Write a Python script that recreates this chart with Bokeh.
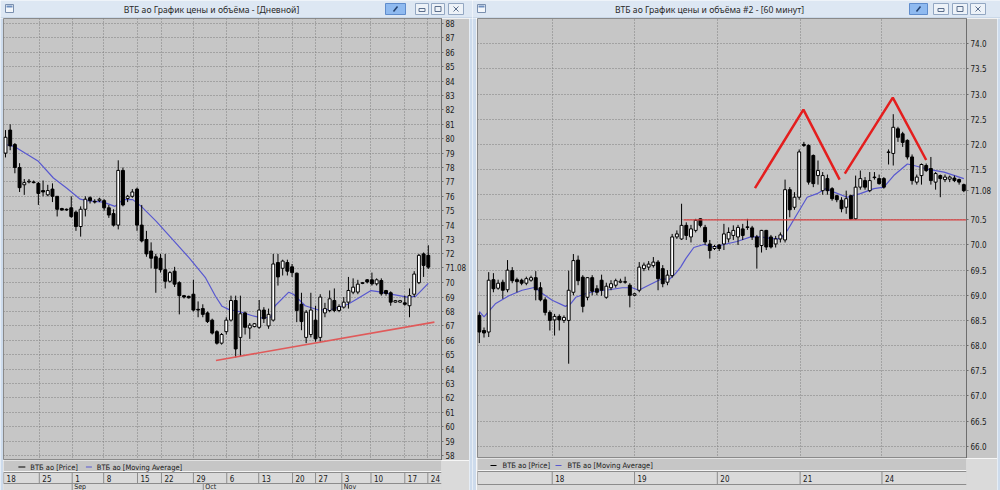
from bokeh.plotting import figure
from bokeh.models import (Range1d, FixedTicker, Label, PrintfTickFormatter, ColumnDataSource,
                          CustomJSTickFormatter)
from bokeh.layouts import row, column
from bokeh.embed import file_html
from bokeh.resources import INLINE
from bokeh.core.properties import value

# ================= DATA: daily chart (left window) =================
d_open = [79.0, 80.6, 79.6, 78.0, 76.8, 77.0, 77.0, 76.9, 76.4, 76.1,
          76.5, 76.0, 75.15, 75.1, 75.2, 74.9, 73.9, 75.1, 75.9, 75.65,
          75.7, 75.7, 75.2, 74.8, 74.0, 77.8, 75.85, 76.0, 76.5, 74.0,
          73.0, 72.2, 71.8, 71.7, 70.9, 70.1, 70.8, 70.0, 69.1, 69.05,
          69.2, 68.15, 68.2, 67.9, 67.4, 66.6, 65.8, 66.6, 67.4, 68.76,
          66.2, 67.9, 66.85, 66.95, 66.9, 68.1, 67.0, 67.4, 71.4, 71.0,
          71.4, 71.1, 70.66, 68.5, 66.2, 66.4, 67.4, 66.2, 67.9, 68.07,
          68.76, 68.07, 68.3, 68.65, 69.34, 69.35, 69.95, 70.2, 70.2, 69.92,
          70.15, 69.45, 69.3, 68.65, 68.65, 68.6, 68.4, 69.2, 70.0, 72.0,
          71.9]
d_high = [80.6, 81.0, 79.7, 78.3, 77.2, 77.2, 77.1, 77.0, 77.1, 76.8,
          76.9, 76.0, 75.2, 75.15, 76.0, 75.0, 75.3, 76.0, 76.0, 75.8,
          75.9, 75.8, 75.4, 75.1, 78.5, 78.0, 76.1, 76.5, 76.6, 75.4,
          73.6, 72.8, 72.0, 72.0, 72.0, 70.8, 71.1, 70.1, 69.15, 69.1,
          70.2, 68.7, 68.5, 68.0, 67.5, 66.7, 66.5, 67.6, 69.1, 69.1,
          69.1, 68.0, 67.2, 67.2, 68.8, 68.3, 68.2, 72.0, 72.0, 71.6,
          71.6, 71.3, 70.7, 69.3, 68.1, 69.3, 68.4, 69.2, 68.6, 69.46,
          69.6, 68.5, 69.0, 70.4, 70.3, 70.2, 70.05, 70.25, 70.7, 70.3,
          70.3, 69.5, 69.4, 68.8, 68.8, 69.1, 69.6, 70.8, 72.0, 72.1,
          72.6]
d_low = [78.7, 79.2, 77.6, 76.3, 76.1, 76.9, 76.9, 75.4, 76.0, 76.0,
         75.6, 74.6, 75.0, 75.0, 74.5, 73.6, 73.2, 74.6, 75.5, 75.5,
         75.6, 75.0, 74.5, 73.9, 73.7, 75.3, 75.6, 75.9, 73.6, 72.8,
         71.8, 71.0, 69.3, 70.7, 69.6, 70.0, 69.7, 67.8, 68.9, 68.9,
         68.0, 67.6, 67.6, 67.2, 66.4, 65.7, 65.7, 66.4, 67.3, 64.8,
         64.9, 66.4, 66.1, 66.9, 66.8, 67.2, 66.8, 67.3, 69.8, 70.5,
         70.5, 70.4, 67.26, 66.7, 65.8, 66.2, 65.9, 65.9, 67.6, 67.95,
         67.95, 67.95, 68.2, 68.2, 69.2, 69.2, 69.9, 69.95, 69.8, 69.8,
         69.1, 69.1, 68.4, 68.6, 68.6, 68.4, 67.6, 69.0, 69.9, 70.4,
         70.95]
d_close = [80.1, 79.5, 78.0, 76.6, 76.95, 77.05, 76.95, 76.2, 76.3, 76.4,
           76.0, 75.1, 75.05, 75.05, 74.6, 73.9, 75.1, 75.8, 75.7, 75.6,
           75.8, 75.2, 74.7, 74.0, 77.8, 75.4, 76.0, 76.3, 74.0, 72.9,
           72.0, 71.7, 71.0, 70.9, 70.1, 70.7, 69.9, 69.1, 69.0, 68.95,
           68.1, 68.1, 67.8, 67.3, 66.5, 65.8, 66.4, 67.4, 68.76, 65.4,
           67.84, 66.9, 67.05, 67.15, 68.1, 67.5, 67.8, 71.3, 70.4, 71.5,
           70.8, 70.7, 68.07, 67.3, 67.95, 68.1, 66.1, 69.0, 68.2, 68.88,
           68.07, 68.35, 68.65, 69.46, 69.69, 69.9, 70.0, 70.05, 69.92, 70.2,
           69.23, 69.25, 68.65, 68.75, 68.75, 68.5, 69.1, 70.6, 71.9, 71.2,
           71.08]
# moving average (bar number, value)
d_ma_x = [1, 2.8, 8.0, 11.2, 14.0, 16.9, 18.3, 21.8, 24.3, 26.0, 28.1, 29.9, 33.1,
          36.6, 40.1, 43.6, 45.7, 47.1, 48.6, 50.7, 53.4, 55.5, 57.5, 58.4, 61.3,
          62.3, 64.8, 67.6, 70.4, 73.9, 76.0, 78.8, 81.0, 83.0, 86.6, 88.3, 91.0]
d_ma_y = [79.6, 79.47, 78.43, 77.27, 76.58, 75.8, 75.7, 75.6, 75.3, 75.77, 75.77, 75.3, 74.26,
          72.99, 71.72, 70.33, 69.06, 68.36, 68.13, 68.0, 67.72, 67.56, 67.6, 68.4, 69.34,
          69.2, 68.4, 68.1, 68.15, 68.5, 68.9, 69.45, 69.35, 69.2, 69.0, 69.05, 69.95]
d_trend_x = [45.8, 92.3]
d_trend_y = [64.6, 67.26]
d_yticks = [58, 59, 60, 61, 62, 63, 64, 65, 66, 67, 68, 69, 70, 71, 72, 73,
            74, 75, 76, 77, 78, 79, 80, 81, 82, 83, 84, 85, 86, 87, 88]
d_week_pos = [0.6, 8.2, 15.2, 21.9, 29.1, 34.2, 41.0, 48.1, 54.9, 62.1, 67.0, 72.6, 78.8, 86.0, 90.9]
d_week_lab = ["18", "25", "1", "8", "15", "22", "29", "6", "13", "20", "27", "3", "10", "17", "24"]
d_month_pos = [15.2, 43.1, 72.6]
d_month_lab = ["Sep", "Oct", "Nov"]
d_last = 71.08

# ================= DATA: hourly chart (right window) =================
h_open = [68.6, 68.3, 68.27, 69.31, 69.14, 69.26, 69.11, 69.49, 69.31, 69.3,
          69.24, 69.3, 69.35, 69.15, 68.91, 68.66, 68.51, 68.58, 68.5, 68.5,
          69.06, 69.7, 69.36, 68.96, 69.35, 69.13, 69.3, 68.96, 69.15, 69.2,
          69.26, 69.27, 69.2, 69.0, 69.1, 69.53, 69.56, 69.59, 69.66, 69.53,
          69.26, 69.39, 70.16, 70.12, 70.39, 70.16, 70.29, 70.52, 70.35, 70.02,
          69.93, 70.0, 70.02, 70.12, 70.19, 70.16, 70.32, 70.36, 70.34, 70.16,
          69.99, 70.29, 70.16, 70.02, 70.12, 70.1, 71.1, 70.75, 70.95, 72.0,
          71.98, 71.78, 71.38, 71.08, 71.32, 71.12, 70.98, 70.89, 70.75, 70.98,
          70.52, 71.15, 71.28, 71.08, 71.35, 71.32, 71.32, 71.84, 71.82, 72.31,
          72.21, 72.08, 71.75, 71.25, 71.38, 71.58, 71.52, 71.25, 71.38, 71.3,
          71.31, 71.33, 71.3, 71.2]
h_high = [68.66, 68.36, 69.46, 69.44, 69.31, 69.31, 69.7, 69.56, 69.35, 69.33,
          69.37, 69.39, 69.48, 69.26, 68.96, 68.7, 68.63, 68.62, 68.6, 69.49,
          69.82, 69.79, 69.4, 69.36, 69.4, 69.2, 69.41, 69.25, 69.3, 69.33,
          69.33, 69.37, 69.24, 69.05, 69.66, 69.65, 69.68, 69.76, 69.7, 69.6,
          69.5, 70.22, 70.29, 70.82, 70.45, 70.4, 70.52, 70.53, 70.4, 70.1,
          70.0, 70.02, 70.42, 70.35, 70.39, 70.4, 70.42, 70.52, 70.38, 70.2,
          70.3, 70.3, 70.2, 70.18, 70.25, 71.3, 71.15, 71.05, 71.9, 72.05,
          72.0, 71.8, 71.68, 71.45, 71.4, 71.15, 71.0, 70.95, 71.08, 71.0,
          71.38, 71.48, 71.35, 71.45, 71.45, 71.4, 71.35, 71.9, 72.6, 72.35,
          72.25, 72.1, 71.8, 71.4, 71.62, 71.62, 71.75, 71.45, 71.4, 71.4,
          71.38, 71.38, 71.32, 71.22]
h_low = [68.05, 68.16, 68.17, 69.06, 69.11, 68.93, 69.06, 69.24, 69.06, 69.2,
         69.2, 69.27, 68.9, 68.88, 68.6, 68.3, 68.2, 68.3, 68.45, 67.64,
         69.0, 69.2, 68.66, 68.9, 69.0, 69.0, 68.99, 68.93, 69.1, 69.15,
         69.24, 69.23, 68.76, 68.98, 69.06, 69.48, 69.5, 69.55, 69.1, 69.16,
         69.2, 69.35, 70.12, 70.1, 70.1, 70.05, 70.25, 70.35, 70.0, 69.73,
         69.9, 69.88, 69.9, 70.05, 70.1, 70.0, 70.1, 70.3, 70.1, 69.53,
         69.85, 69.9, 69.93, 69.95, 70.05, 70.05, 70.55, 70.7, 70.9, 71.95,
         71.2, 71.15, 71.2, 71.0, 71.0, 70.88, 70.85, 70.65, 70.62, 70.5,
         70.5, 71.1, 71.1, 71.05, 71.3, 71.2, 71.12, 71.6, 71.58, 72.05,
         71.95, 71.7, 71.2, 71.2, 71.2, 71.45, 71.2, 71.1, 70.95, 71.25,
         71.25, 71.25, 71.2, 71.05]
h_close = [68.27, 68.25, 69.3, 69.13, 69.24, 69.1, 69.5, 69.29, 69.27, 69.24,
           69.33, 69.35, 69.11, 68.91, 68.66, 68.5, 68.58, 68.51, 68.56, 69.1,
           69.69, 69.29, 68.78, 69.35, 69.08, 69.06, 69.1, 69.18, 69.23, 69.29,
           69.28, 69.26, 69.0, 69.03, 69.56, 69.6, 69.62, 69.66, 69.33, 69.23,
           69.4, 70.16, 70.22, 70.39, 70.19, 70.32, 70.49, 70.39, 70.06, 69.89,
           69.97, 69.93, 70.22, 70.25, 70.29, 70.35, 70.19, 70.35, 70.16, 69.96,
           70.29, 69.96, 69.96, 70.12, 70.2, 71.1, 70.7, 70.95, 71.85, 71.98,
           71.25, 71.22, 71.48, 71.38, 71.08, 70.92, 70.9, 70.72, 70.92, 70.52,
           71.15, 71.32, 71.15, 71.28, 71.34, 71.22, 71.15, 71.85, 72.34, 72.14,
           72.04, 71.75, 71.28, 71.35, 71.6, 71.48, 71.28, 71.42, 71.32, 71.35,
           71.35, 71.28, 71.25, 71.08]
h_ma_x = [1.0, 2.0, 4.4, 7.3, 10.1, 12.9, 14.0, 16.5, 19.3, 20.4, 21.5, 23.6, 25.7,
          28.6, 31.4, 33.5, 34.9, 37.0, 39.8, 41.3, 42.7, 43.8, 44.9, 46.6, 48.7,
          50.9, 53.0, 55.8, 58.7, 60.8, 62.9, 65.0, 66.5, 68.6, 70.7, 72.8, 74.6,
          76.4, 79.2, 82.0, 84.9, 87.0, 89.1, 92.0, 93.4, 96.2, 99.8, 104.0]
h_ma_y = [68.68, 68.57, 68.83, 68.99, 69.1, 69.16, 69.06, 68.9, 68.78, 68.83, 68.96, 69.03, 69.08,
          69.11, 69.15, 69.15, 69.1, 69.2, 69.33, 69.31, 69.43, 69.56, 69.73, 69.95, 70.01,
          69.96, 70.01, 70.07, 70.16, 70.16, 70.13, 70.12, 70.29, 70.62, 70.95, 71.02, 71.12,
          71.05, 70.95, 71.02, 71.12, 71.15, 71.38, 71.61, 71.58, 71.51, 71.45, 71.32]
h_level = 70.5
h_level_from = 44.4
h_top1_x = [59.6, 69.9, 77.6]
h_top1_y = [71.13, 72.69, 71.30]
h_top2_x = [78.7, 88.9, 96.0]
h_top2_y = [71.42, 72.93, 71.69]
h_yticks = [66.0, 66.5, 67.0, 67.5, 68.0, 68.5, 69.0, 69.5, 70.0,
            70.5, 71.0, 71.5, 72.0, 72.5, 73.0, 73.5, 74.0]
h_day_pos = [0.62, 16.5, 34.0, 51.6, 69.2, 86.6]
h_day_lab = ["", "18", "19", "20", "21", "24"]
h_last = 71.08

# ================= STYLE =================
PLOT_BG = "#c6c6c6"
OUTLINE = "#8a8a8a"
GRID = "#7e7e7e"
WIN_EDGE = "#cddbec"
TITLE_BG = "#dde7f3"
STRIP_BG = "#dadada"
MA_COLOR = "#5858d0"
NARROW = "Liberation Sans Narrow, DejaVu Sans Condensed, sans-serif"
UI_FONT = "Noto Sans"


def blank(w, h, color, xr=None, yr=None):
    p = figure(width=w, height=h, output_backend="svg", toolbar_location=None,
               min_border=0, x_axis_location=None, y_axis_location=None,
               x_range=xr if xr is not None else Range1d(0, 1),
               y_range=yr if yr is not None else Range1d(0, 1),
               background_fill_color=color, border_fill_color=color,
               outline_line_color=None)
    p.grid.visible = False
    return p


def price_chart(o, h, l, c, xr, yr, w, hgt, mbl, mbr, yticks, decimals, vlines, ma_x, ma_y,
                last, replaced):
    xs = list(range(1, len(o) + 1))
    src = ColumnDataSource(dict(
        x=xs, h=h, l=l,
        top=[max(a, b) for a, b in zip(o, c)],
        bot=[min(a, b) for a, b in zip(o, c)],
        fill=["#ffffff" if b >= a else "#000000" for a, b in zip(o, c)]))
    p = figure(width=w, height=hgt, x_range=xr, y_range=yr, output_backend="svg",
               toolbar_location=None, x_axis_location=None, y_axis_location="right",
               min_border_left=mbl, min_border_right=mbr, min_border_top=0, min_border_bottom=0,
               background_fill_color=PLOT_BG, border_fill_color=PLOT_BG,
               outline_line_color=OUTLINE, outline_line_width=1)
    p.xgrid.ticker = FixedTicker(ticks=vlines)
    p.ygrid.ticker = FixedTicker(ticks=yticks)
    for g in (p.xgrid, p.ygrid):
        g.grid_line_color = GRID
        g.grid_line_dash = "1 2"
        g.grid_line_width = 1
    ax = p.yaxis[0]
    # the last-price tag replaces the tick label that it covers
    ax.ticker = FixedTicker(ticks=[t for t in yticks if t != replaced] + [last])
    ax.formatter = CustomJSTickFormatter(
        args=dict(last=last, dec=decimals),
        code="return Math.abs(tick - last) < 1e-6 ? tick.toFixed(2) : tick.toFixed(dec);")
    ax.major_label_text_font = NARROW
    ax.major_label_text_font_size = "8px"
    ax.major_label_text_color = "#1a1a1a"
    ax.major_tick_out = 2
    ax.major_tick_in = 0
    ax.minor_tick_out = 0
    ax.minor_tick_in = 0
    ax.major_label_standoff = 2
    ax.axis_line_color = "#6e6e6e"
    ax.major_tick_line_color = "#6e6e6e"

    p.line(ma_x, ma_y, line_color=MA_COLOR, line_width=1.2)
    p.segment(x0="x", y0="l", x1="x", y1="h", source=src, line_color="#000000", line_width=1)
    p.vbar(x="x", width=0.62, top="top", bottom="bot", source=src,
           fill_color="fill", line_color="#000000", line_width=1)
    return p


def date_strip(xr, w, hgt, mbl, mbr, frame_w, sep_pos, sep_lab, month_pos, month_lab,
               rows, leg):
    p = figure(width=w, height=hgt, x_range=xr, y_range=Range1d(hgt, 0), output_backend="svg",
               toolbar_location=None, x_axis_location=None, y_axis_location=None,
               min_border_left=mbl, min_border_right=mbr, min_border_top=0, min_border_bottom=0,
               background_fill_color=PLOT_BG, border_fill_color=STRIP_BG, outline_line_color=None)
    p.grid.visible = False
    p.extra_x_ranges = {"px": Range1d(0, frame_w)}
    legend_y, day_top, day_bot, month_bot = rows
    p.quad(left=[0], right=[frame_w], top=[day_top], bottom=[month_bot], x_range_name="px",
           fill_color=STRIP_BG, line_color=None)
    p.segment(x0=[0], x1=[frame_w], y0=[day_top - 1], y1=[day_top - 1], x_range_name="px",
              line_color="#f4f4f4", line_width=1)
    p.segment(x0=[0, 0], x1=[frame_w, frame_w], y0=[day_top, day_bot], y1=[day_top, day_bot],
              x_range_name="px", line_color="#8c8c8c", line_width=1)
    p.segment(x0=sep_pos, x1=sep_pos, y0=[day_top] * len(sep_pos), y1=[day_bot] * len(sep_pos),
              line_color="#8c8c8c", line_width=1)
    p.text(x=sep_pos, y=[(day_top + day_bot) / 2] * len(sep_pos), text=sep_lab, x_offset=3,
           text_font=value(NARROW), text_font_size="8px", text_baseline="middle",
           text_align="left", text_color="#1a1a1a")
    if month_pos:
        p.segment(x0=month_pos, x1=month_pos, y0=[day_bot] * len(month_pos),
                  y1=[month_bot] * len(month_pos), line_color="#8c8c8c", line_width=1)
        p.text(x=month_pos, y=[day_bot + 3] * len(month_pos), text=month_lab, x_offset=2,
               text_font=value(NARROW), text_font_size="7px", text_baseline="middle",
               text_align="left", text_color="#1a1a1a")
    (bx0, bx1, btx), (mx0, mx1, mtx) = leg
    p.segment(x0=[bx0], x1=[bx1], y0=[legend_y], y1=[legend_y], x_range_name="px",
              line_color="#000000", line_width=1)
    p.segment(x0=[mx0], x1=[mx1], y0=[legend_y], y1=[legend_y], x_range_name="px",
              line_color=MA_COLOR, line_width=1)
    p.text(x=[btx, mtx], y=[legend_y, legend_y],
           text=["ВТБ ао [Price]", "ВТБ ао [Moving Average]"], x_range_name="px",
           text_font=value(NARROW), text_font_size="7.5px", text_baseline="middle",
           text_align="left", text_color="#1a1a1a")
    return p


def title_bar(w, title, tx, blue_btn, btns):
    p = blank(w, 18, TITLE_BG, Range1d(0, w), Range1d(18, 0))
    p.segment(x0=[0], x1=[w], y0=[17.5], y1=[17.5], line_color="#b7c8dc")
    p.quad(left=[5], right=[13], top=[4], bottom=[12], fill_color="#f3f6fa", line_color="#7a8fae")
    p.quad(left=[6], right=[12], top=[5], bottom=[7], fill_color="#6f8fc0", line_color=None)
    p.text(x=[tx], y=[9.5], text=[title], text_align="center", text_baseline="middle",
           text_font=value(UI_FONT), text_font_size="8.6px", text_color="#2a2a2a")
    p.quad(left=[blue_btn[0]], right=[blue_btn[1]], top=[3], bottom=[14],
           fill_color="#8fbaf0", line_color="#5f8ccc")
    cx = (blue_btn[0] + blue_btn[1]) / 2
    p.segment(x0=[cx - 2], x1=[cx + 2], y0=[11], y1=[6], line_color="#23406e", line_width=1.5)
    p.quad(left=[b[0] for b in btns], right=[b[1] for b in btns], top=[3] * 3, bottom=[14] * 3,
           fill_color="#edf2f8", line_color="#93a7c2")
    c = [(b[0] + b[1]) / 2 for b in btns]
    p.quad(left=[c[0] - 3], right=[c[0] + 3], top=[8], bottom=[11], fill_color=None,
           line_color="#5b6e8c")
    p.quad(left=[c[1] - 3], right=[c[1] + 3], top=[6], bottom=[11], fill_color=None,
           line_color="#5b6e8c")
    p.segment(x0=[c[2] - 2.5, c[2] - 2.5], x1=[c[2] + 2.5, c[2] + 2.5], y0=[6, 11], y1=[11, 6],
              line_color="#5b6e8c", line_width=1)
    return p


# ================= LEFT WINDOW =================
xr_d = Range1d(0.577, 93.81)
yr_d = Range1d(57.65, 88.35)
main_d = price_chart(d_open, d_high, d_low, d_close, xr_d, yr_d, 466, 442, 0, 25,
                     d_yticks, 0, d_week_pos[1:], d_ma_x, d_ma_y, d_last, 71)
main_d.line(d_trend_x, d_trend_y, line_color="#e05a5a", line_width=1.6)
strip_d = date_strip(xr_d, 466, 30, 0, 25, 441, d_week_pos, d_week_lab, d_month_pos, d_month_lab,
                     (6.5, 12, 23, 30), ((15, 22, 27), (83, 89, 94)))
title_d = title_bar(472, "ВТБ ао График цены и объёма - [Дневной]", 211,
                    (385, 405), [(415, 428), (431, 444), (448, 463)])
left_win = column(title_d, row(blank(3, 472, WIN_EDGE), column(main_d, strip_d), blank(3, 472, WIN_EDGE)))

# ================= RIGHT WINDOW =================
xr_h = Range1d(0.617, 104.57)
yr_h = Range1d(65.755, 74.503)
main_h = price_chart(h_open, h_high, h_low, h_close, xr_h, yr_h, 521, 440, 1, 31,
                     h_yticks, 1, h_day_pos[1:], h_ma_x, h_ma_y, h_last, 71.0)
main_h.line([h_level_from, xr_h.end], [h_level, h_level], line_color="#d84040", line_width=1.2)
main_h.line(h_top1_x, h_top1_y, line_color="#e41e1e", line_width=2.5)
main_h.line(h_top2_x, h_top2_y, line_color="#e41e1e", line_width=2.5)
strip_h = date_strip(xr_h, 521, 32, 1, 31, 489, h_day_pos, h_day_lab, [], [],
                     (7, 13, 26, 32), ((13, 19, 25), (78, 84, 90)))
title_h = title_bar(528, "ВТБ ао График цены и объёма #2 - [60 минут]", 237,
                    (437, 455), [(461, 476), (480, 495), (498, 513)])
right_win = column(title_h, row(blank(4, 472, WIN_EDGE), column(main_h, strip_h), blank(3, 472, WIN_EDGE)))

page = row(left_win, right_win)
open("out.html", "w").write(file_html(page, INLINE))
